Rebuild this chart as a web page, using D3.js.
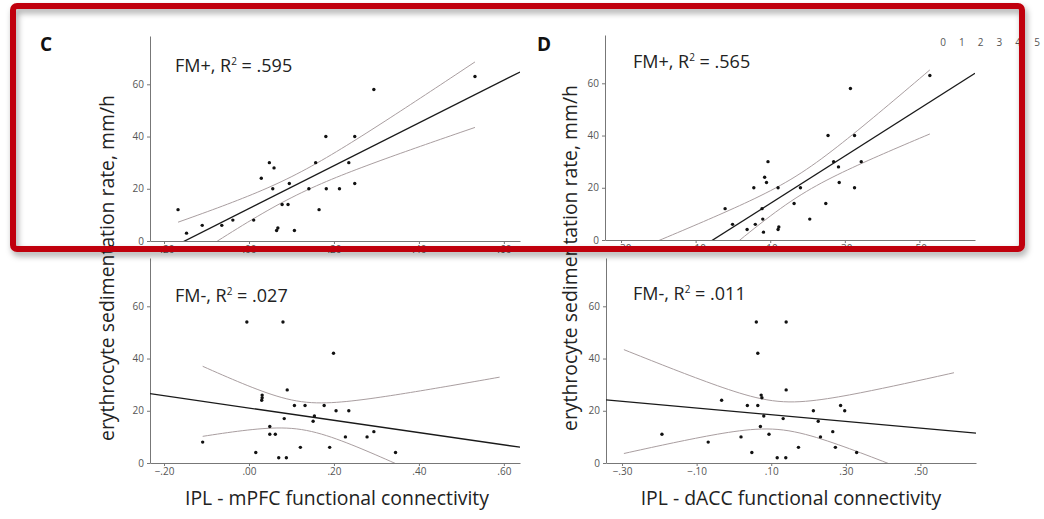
<!DOCTYPE html>
<html>
<head>
<meta charset="utf-8">
<script src="https://cdn.jsdelivr.net/npm/d3@7/dist/d3.min.js"></script>
<style>
body { margin: 0; background: #fff; }
text { font-family: "Open Sans", sans-serif; }
.tick text { fill: #555; font-size: 10px; }
.tick line, .domain { stroke: #777; }
</style>
</head>
<body>
<div id="chart"></div>
<script>
// values: ESR (mm/h) against IPL connectivity, FM+ and FM- groups
var mpfcPlusX = [-0.167,-0.147,-0.110,-0.064,-0.038,0.011,0.029,0.048,0.059,0.056,0.078,0.092,0.095,0.065,0.068,0.107,0.141,0.157,0.165,0.181,0.182,0.213,0.235,0.249,0.249,0.294,0.532];
var mpfcPlusY = [12,3,6,6,8,8,24,30,28,20,14,14,22,4,5,4,20,30,12,40,20,20,30,40,22,58,63];
var daccPlusX = [-0.021,-0.001,0.038,0.056,0.060,0.078,0.080,0.082,0.085,0.090,0.094,0.121,0.121,0.123,0.164,0.181,0.206,0.249,0.255,0.270,0.283,0.285,0.315,0.326,0.326,0.344,0.528];
var daccPlusY = [12,6,4,20,6,12,8,3,24,22,30,20,4,5,14,20,8,14,40,30,28,22,58,40,20,30,63];
var mpfcMinusX = [-0.109,-0.005,0.080,0.016,0.030,0.031,0.031,0.049,0.049,0.062,0.070,0.088,0.083,0.090,0.107,0.121,0.132,0.151,0.154,0.177,0.190,0.199,0.205,0.227,0.235,0.278,0.294,0.345];
var mpfcMinusY = [8,54,54,4,24,25,26,14,11,11,2,2,17,28,22,6,22,16,18,22,6,42,20,10,20,10,12,4];
var daccMinusX = [-0.193,-0.069,-0.033,0.019,0.036,0.048,0.060,0.064,0.064,0.071,0.073,0.075,0.080,0.094,0.116,0.132,0.139,0.140,0.140,0.173,0.213,0.226,0.232,0.265,0.272,0.286,0.297,0.329];
var daccMinusY = [11,8,24,10,22,4,54,42,22,14,26,25,18,11,2,17,2,28,54,6,20,16,10,12,6,22,20,4];

var r2Labels = [".595", ".565", ".027", ".011"];
var mpfcTicks = [-0.2, 0, 0.2, 0.4, 0.6];
var daccTicks = [-0.3, -0.1, 0.1, 0.3, 0.5];
var esrTicks = [0, 20, 40, 60];
var cornerTicks = ["0", "1", "2", "3", "4", "5"];
// x-extent of the confidence curves, as drawn
var bandC1 = [-0.167, 0.532], bandD1 = [-0.30, 0.528],
    bandC2 = [-0.109, 0.59], bandD2 = [-0.295, 0.59];

var width = 1044, height = 519;
var plotH = 205, tcrit = 2.06;

var svg = d3.select("#chart").append("svg")
    .attr("width", width)
    .attr("height", height);

var defs = svg.append("defs");
var shadow = defs.append("filter").attr("id", "shadow")
    .attr("x", "-5%").attr("y", "-5%").attr("width", "110%").attr("height", "115%");
shadow.append("feDropShadow")
    .attr("dx", 2).attr("dy", 4).attr("stdDeviation", 3)
    .attr("flood-color", "#000").attr("flood-opacity", 0.35);

var fmt = function(d) { return d3.format(".2f")(d).replace("0.", "."); };

var panels = [
  {id: "c1", left: 150, base: 241, xd: [-0.233, 0.638], ticks: mpfcTicks, xs: mpfcPlusX, ys: mpfcPlusY, band: bandC1, grp: "FM+", r2: r2Labels[0], lx: 175, ly: 72},
  {id: "d1", left: 605, base: 240, xd: [-0.343, 0.649], ticks: daccTicks, xs: daccPlusX, ys: daccPlusY, band: bandD1, grp: "FM+", r2: r2Labels[1], lx: 633, ly: 68},
  {id: "c2", left: 150, base: 463, xd: [-0.233, 0.638], ticks: mpfcTicks, xs: mpfcMinusX, ys: mpfcMinusY, band: bandC2, grp: "FM-", r2: r2Labels[2], lx: 175, ly: 302},
  {id: "d2", left: 606, base: 463, xd: [-0.343, 0.649], ticks: daccTicks, xs: daccMinusX, ys: daccMinusY, band: bandD2, grp: "FM-", r2: r2Labels[3], lx: 633, ly: 300}
];

panels.forEach(function(p) {
  var x = d3.scaleLinear().domain(p.xd).range([p.left, p.left + 370]);
  var y = d3.scaleLinear().domain([0, 78.5]).range([p.base, p.base - plotH]);

  defs.append("clipPath").attr("id", "clip-" + p.id)
    .append("rect")
      .attr("x", p.left).attr("y", p.base - plotH)
      .attr("width", 370).attr("height", plotH);

  // least squares fit and 95% CI of the mean
  var n = p.xs.length,
      mx = d3.mean(p.xs), my = d3.mean(p.ys),
      sxx = d3.sum(p.xs, function(v) { return (v - mx) * (v - mx); }),
      sxy = d3.sum(p.xs, function(v, i) { return (v - mx) * (p.ys[i] - my); }),
      b = sxy / sxx, a = my - b * mx;
  var sse = d3.sum(p.xs, function(v, i) { var e = p.ys[i] - (a + b * v); return e * e; });
  var s = Math.sqrt(sse / (n - 2));
  var fit = function(v) { return a + b * v; };
  var half = function(v) { return tcrit * s * Math.sqrt(1 / n + (v - mx) * (v - mx) / sxx); };

  var g = svg.append("g");

  g.append("g")
      .attr("transform", "translate(0," + p.base + ")")
      .call(d3.axisBottom(x).tickValues(p.ticks).tickFormat(fmt).tickSize(3).tickSizeOuter(0).tickPadding(2));

  g.append("g")
      .attr("transform", "translate(" + p.left + ",0)")
      .call(d3.axisLeft(y).tickValues(esrTicks).tickSize(3).tickSizeOuter(0).tickPadding(3));

  var plot = g.append("g").attr("clip-path", "url(#clip-" + p.id + ")");

  var xsBand = d3.range(0, 61).map(function(i) { return p.band[0] + (p.band[1] - p.band[0]) * i / 60; });
  var line = d3.line().x(function(d) { return x(d[0]); }).y(function(d) { return y(d[1]); });

  plot.append("path")
      .attr("d", line(xsBand.map(function(v) { return [v, fit(v) + half(v)]; })))
      .attr("fill", "none").attr("stroke", "#a99ea0").attr("stroke-width", 1);
  plot.append("path")
      .attr("d", line(xsBand.map(function(v) { return [v, fit(v) - half(v)]; })))
      .attr("fill", "none").attr("stroke", "#a99ea0").attr("stroke-width", 1);
  plot.append("path")
      .attr("d", line(p.xd.map(function(v) { return [v, fit(v)]; })))
      .attr("fill", "none").attr("stroke", "#1a1a1a").attr("stroke-width", 1.3);

  plot.selectAll("circle")
      .data(p.xs)
    .enter().append("circle")
      .attr("cx", function(d) { return x(d); })
      .attr("cy", function(d, i) { return y(p.ys[i]); })
      .attr("r", 1.7)
      .attr("fill", "#111");

  var lbl = g.append("text")
      .attr("x", p.lx).attr("y", p.ly)
      .attr("font-size", 18).attr("fill", "#222");
  lbl.append("tspan").text(p.grp + ", R");
  lbl.append("tspan").attr("font-size", 10).attr("dy", -7).text("2");
  lbl.append("tspan").attr("dy", 7).text(" = " + p.r2);
});

// axis titles
svg.append("text")
    .attr("transform", "translate(114,268) rotate(-90)")
    .attr("text-anchor", "middle").attr("font-size", 19.4).attr("fill", "#222")
    .text("erythrocyte sedimentation rate, mm/h");
svg.append("text")
    .attr("transform", "translate(577,258) rotate(-90)")
    .attr("text-anchor", "middle").attr("font-size", 19.4).attr("fill", "#222")
    .text("erythrocyte sedimentation rate, mm/h");
svg.append("text")
    .attr("x", 337).attr("y", 505)
    .attr("text-anchor", "middle").attr("font-size", 19.4).attr("fill", "#222")
    .text("IPL - mPFC functional connectivity");
svg.append("text")
    .attr("x", 791).attr("y", 505)
    .attr("text-anchor", "middle").attr("font-size", 19.4).attr("fill", "#222")
    .text("IPL - dACC functional connectivity");

// panel letters
svg.append("text").attr("x", 40).attr("y", 51)
    .attr("font-size", 19).attr("font-weight", "bold").attr("fill", "#111").text("C");
svg.append("text").attr("x", 537).attr("y", 51)
    .attr("font-size", 19).attr("font-weight", "bold").attr("fill", "#111").text("D");

// stray scale in the top right corner
var cx = d3.scaleLinear().domain([0, 5]).range([943, 1037]);
svg.selectAll(".corner")
    .data(cornerTicks)
  .enter().append("text")
    .attr("class", "corner")
    .attr("x", function(d, i) { return cx(i); })
    .attr("y", 46)
    .attr("text-anchor", "middle").attr("font-size", 10).attr("fill", "#555")
    .text(function(d) { return d; });

// red highlight box
svg.append("rect")
    .attr("x", 13).attr("y", 6)
    .attr("width", 1009).attr("height", 243)
    .attr("rx", 4)
    .attr("fill", "none")
    .attr("stroke", "#c0000a")
    .attr("stroke-width", 6)
    .attr("filter", "url(#shadow)");
</script>
</body>
</html>
